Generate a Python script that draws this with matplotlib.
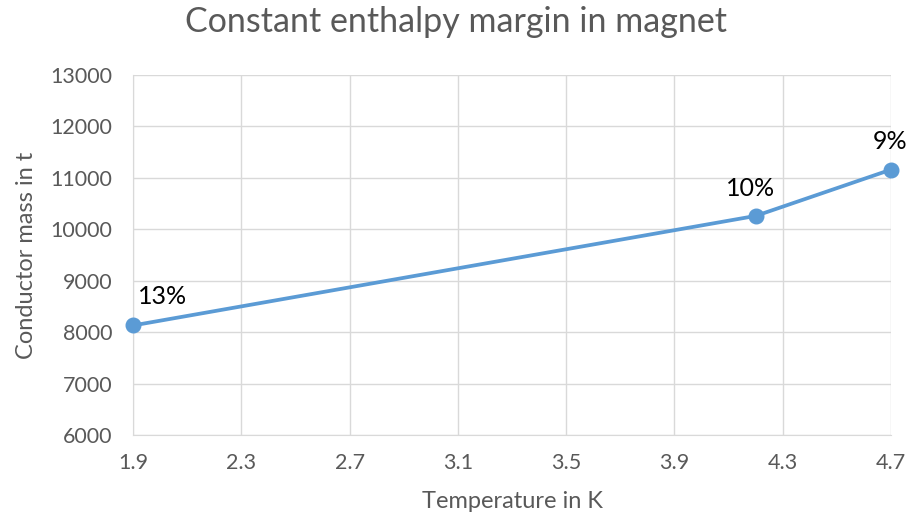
import matplotlib
matplotlib.use("Agg")
import matplotlib.pyplot as plt

temperature = [1.9, 4.2, 4.7]
conductor_mass = [8130, 10260, 11160]
margin_labels = ["13%", "10%", "9%"]
x_ticks = [1.9, 2.3, 2.7, 3.1, 3.5, 3.9, 4.3, 4.7]
y_ticks = [6000, 7000, 8000, 9000, 10000, 11000, 12000, 13000]

plt.rcParams['font.family'] = ['Lato', 'DejaVu Sans']
grey = '#595959'
blue = '#5b9bd5'

fig = plt.figure(figsize=(9.07, 5.17), dpi=100)
ax = fig.add_axes([133 / 907, 1 - 435 / 517, (891 - 133) / 907, (435 - 75) / 517])

ax.plot(temperature, conductor_mass, color=blue, lw=2.7, marker='o', ms=10.5,
        clip_on=False, zorder=3)

offsets = [(21, 21), (-4, 20), (-1, 20)]
for x, y, lab, off in zip(temperature, conductor_mass, margin_labels, offsets):
    ax.annotate(lab, (x, y), xytext=off, textcoords='offset points',
                ha='center', va='center', fontsize=18, color='black')

ax.set_xlim(1.9, 4.7)
ax.set_ylim(6000, 13000)
ax.set_xticks(x_ticks)
ax.set_xticklabels([f"{v:.1f}" for v in x_ticks])
ax.set_yticks(y_ticks)
ax.grid(True, color='#d9d9d9', lw=1)
ax.set_axisbelow(True)
for s in ax.spines.values():
    s.set_visible(False)
ax.spines['bottom'].set_visible(True)
ax.spines['bottom'].set_color('#d9d9d9')
ax.spines['left'].set_visible(True)
ax.spines['left'].set_color('#d9d9d9')
ax.tick_params(length=0, labelsize=15.5, colors=grey)
ax.tick_params(axis='y', pad=15)
ax.tick_params(axis='x', pad=13)

ax.set_xlabel('Temperature in K', fontsize=17, color=grey)
ax.xaxis.set_label_coords(0.5, -(502 - 435) / 360)
ax.set_ylabel('Conductor mass in t', fontsize=17, color=grey)
ax.yaxis.set_label_coords(-(133 - 27) / 758, 0.5)
for lab in [ax.xaxis.label, ax.yaxis.label]:
    lab.set_va('center')
fig.suptitle('Constant enthalpy margin in magnet', fontsize=24.5, color=grey,
             x=456 / 907, y=1 - 22 / 517, va='center')

fig.savefig('out.png', dpi=100)
